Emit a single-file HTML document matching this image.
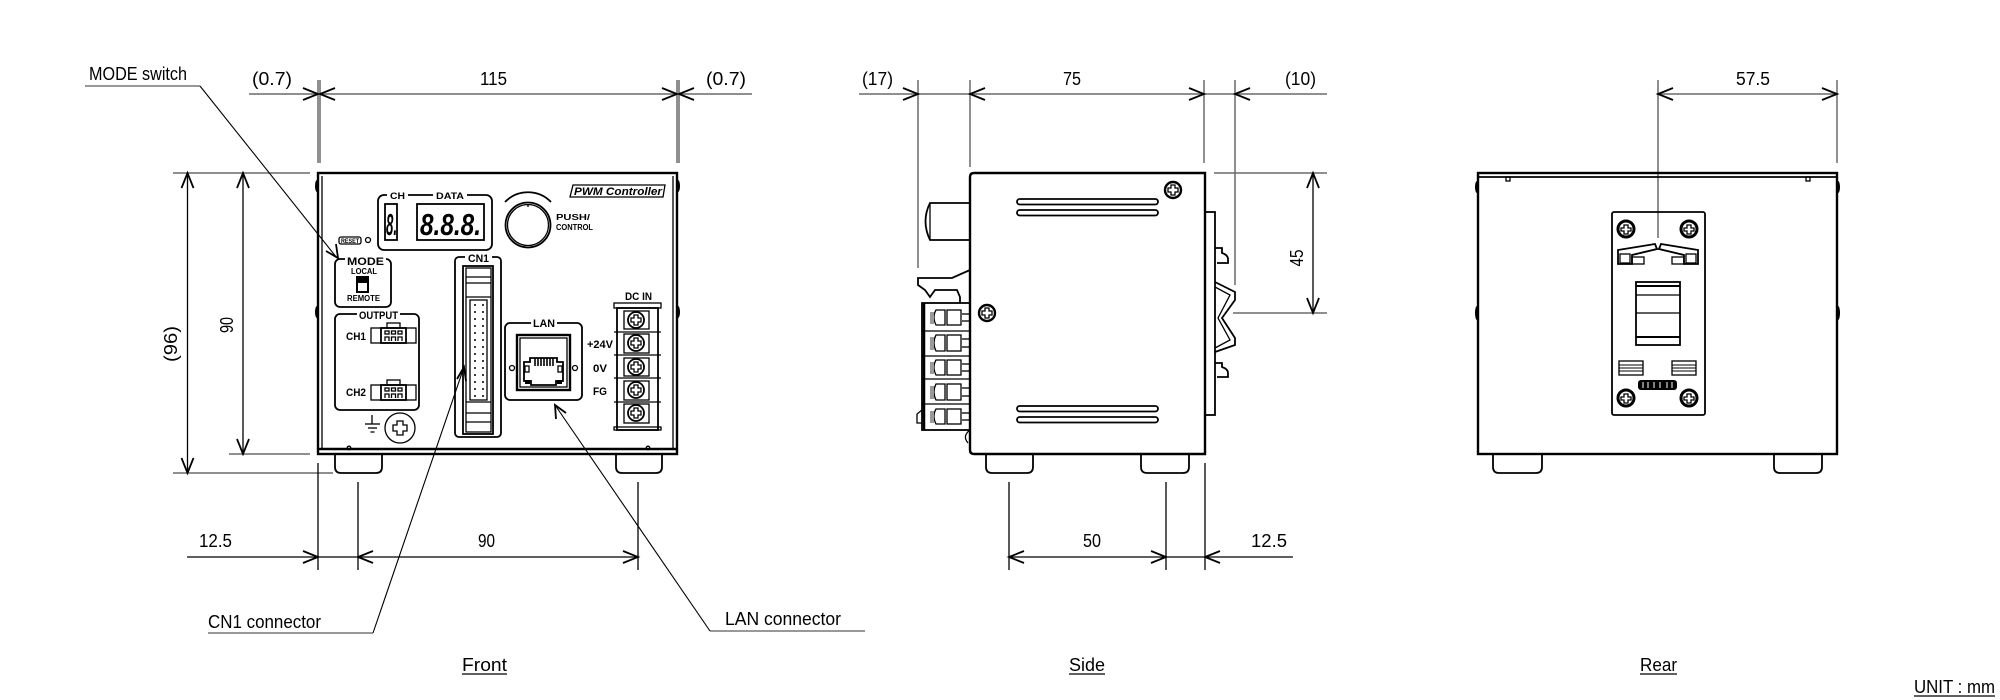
<!DOCTYPE html>
<html><head><meta charset="utf-8"><style>
html,body{margin:0;padding:0;background:#fff;}
svg{display:block;}
.d{stroke:#6a6a6a;stroke-width:1.5;fill:none;}
.a{stroke:#000;stroke-width:1.8;fill:none;}
.b{stroke:#000;stroke-width:2.4;fill:none;}
.t{stroke:#000;stroke-width:1.3;fill:none;}
.lt{font-family:"Liberation Sans Narrow","Liberation Sans",sans-serif;font-size:18px;fill:#000;}
.p{font-family:"Liberation Sans",sans-serif;font-weight:bold;fill:#000;}
</style></head><body>
<svg width="2000" height="700" viewBox="0 0 2000 700" xmlns="http://www.w3.org/2000/svg">
<rect width="2000" height="700" fill="#fff"/>

<!-- ================= DIMENSIONS (top) ================= -->
<g class="d">
<line x1="318" y1="80" x2="318" y2="163"/>
<line x1="320" y1="80" x2="320" y2="163"/>
<line x1="677" y1="80" x2="677" y2="163"/>
<line x1="679" y1="80" x2="679" y2="163"/>
<line x1="249" y1="94" x2="752" y2="94"/>
<line x1="918" y1="80" x2="918" y2="268"/>
<line x1="970" y1="80" x2="970" y2="167"/>
<line x1="1204" y1="80" x2="1204" y2="163"/>
<line x1="1235" y1="80" x2="1235" y2="285"/>
<line x1="859" y1="94" x2="1327" y2="94"/>
<line x1="1658" y1="80" x2="1658" y2="238"/>
<line x1="1837" y1="80" x2="1837" y2="163"/>
<line x1="1658" y1="94" x2="1837" y2="94"/>
<!-- 45 -->
<line x1="1214" y1="173" x2="1327" y2="173"/>
<line x1="1233" y1="313" x2="1327" y2="313"/>
<!-- front verticals -->
<line x1="173" y1="173" x2="310" y2="173"/>
<line x1="229" y1="454" x2="310" y2="454"/>
<line x1="173" y1="473" x2="333" y2="473"/>
</g>
<g class="t">
<line x1="1313" y1="173" x2="1313" y2="313"/>
<line x1="243" y1="173" x2="243" y2="454"/>
<line x1="187.5" y1="173" x2="187.5" y2="473"/>
<!-- bottom dims -->
<line x1="318" y1="463" x2="318" y2="570"/>
<line x1="358" y1="482" x2="358" y2="570"/>
<line x1="638" y1="482" x2="638" y2="570"/>
<line x1="187" y1="557" x2="638" y2="557"/>
<line x1="1009" y1="482" x2="1009" y2="570"/>
<line x1="1166" y1="482" x2="1166" y2="570"/>
<line x1="1205" y1="463" x2="1205" y2="570"/>
<line x1="1009" y1="557" x2="1293" y2="557"/>
</g>
<!-- arrows -->
<g class="a">
<polyline points="303,88 318,94 303,100"/>
<polyline points="335,88 320,94 335,100"/>
<polyline points="662,88 677,94 662,100"/>
<polyline points="694,88 679,94 694,100"/>
<polyline points="903,88 918,94 903,100"/>
<polyline points="985,88 970,94 985,100"/>
<polyline points="1189,88 1204,94 1189,100"/>
<polyline points="1250,88 1235,94 1250,100"/>
<polyline points="1673,88 1658,94 1673,100"/>
<polyline points="1822,88 1837,94 1822,100"/>
<polyline points="1307,188 1313,173 1319,188"/>
<polyline points="1307,298 1313,313 1319,298"/>
<polyline points="237,188 243,173 249,188"/>
<polyline points="237,439 243,454 249,439"/>
<polyline points="181.5,188 187.5,173 193.5,188"/>
<polyline points="181.5,458 187.5,473 193.5,458"/>
<polyline points="303,551 318,557 303,563"/>
<polyline points="373,551 358,557 373,563"/>
<polyline points="623,551 638,557 623,563"/>
<polyline points="1024,551 1009,557 1024,563"/>
<polyline points="1151,551 1166,557 1151,563"/>
<polyline points="1220,551 1205,557 1220,563"/>
</g>

<!-- dimension texts -->
<g class="lt">
<text x="89" y="80" textLength="98" lengthAdjust="spacingAndGlyphs">MODE switch</text>
<text x="252" y="85" textLength="40" lengthAdjust="spacingAndGlyphs">(0.7)</text>
<text x="480" y="85" textLength="27" lengthAdjust="spacingAndGlyphs">115</text>
<text x="706" y="85" textLength="40" lengthAdjust="spacingAndGlyphs">(0.7)</text>
<text x="862" y="85" textLength="31" lengthAdjust="spacingAndGlyphs">(17)</text>
<text x="1063" y="85" textLength="18" lengthAdjust="spacingAndGlyphs">75</text>
<text x="1285" y="85" textLength="31" lengthAdjust="spacingAndGlyphs">(10)</text>
<text x="1736" y="85" textLength="34" lengthAdjust="spacingAndGlyphs">57.5</text>
<text x="199" y="547" textLength="33" lengthAdjust="spacingAndGlyphs">12.5</text>
<text x="478" y="547" textLength="17" lengthAdjust="spacingAndGlyphs">90</text>
<text x="1083" y="547" textLength="18" lengthAdjust="spacingAndGlyphs">50</text>
<text x="1251" y="547" textLength="36" lengthAdjust="spacingAndGlyphs">12.5</text>
<text x="208" y="628" textLength="113" lengthAdjust="spacingAndGlyphs">CN1 connector</text>
<text x="725" y="625" textLength="116" lengthAdjust="spacingAndGlyphs">LAN connector</text>
<text x="462" y="671" textLength="45" lengthAdjust="spacingAndGlyphs">Front</text>
<text x="1069" y="671" textLength="36" lengthAdjust="spacingAndGlyphs">Side</text>
<text x="1640" y="671" textLength="37" lengthAdjust="spacingAndGlyphs">Rear</text>
<text x="1914" y="693" textLength="81" lengthAdjust="spacingAndGlyphs">UNIT : mm</text>
<text transform="translate(233,325) rotate(-90)" text-anchor="middle" textLength="16" lengthAdjust="spacingAndGlyphs">90</text>
<text transform="translate(177,344) rotate(-90)" text-anchor="middle" textLength="36" lengthAdjust="spacingAndGlyphs">(96)</text>
<text transform="translate(1303,258) rotate(-90)" text-anchor="middle" textLength="17" lengthAdjust="spacingAndGlyphs">45</text>
</g>
<!-- underlines -->
<g stroke="#000" stroke-width="1.3">
<line x1="462" y1="674" x2="507" y2="674"/>
<line x1="1069" y1="674" x2="1105" y2="674"/>
<line x1="1640" y1="674" x2="1677" y2="674"/>
<line x1="1914" y1="696" x2="1995" y2="696"/>
</g>

<!-- leaders -->
<g>
<line x1="85" y1="86" x2="200" y2="86" stroke="#777" stroke-width="1.6"/>
<line x1="200" y1="86" x2="337" y2="258" stroke="#000" stroke-width="1.1"/>
<polyline points="326,251 338,258 336,244" class="a"/>
<line x1="208" y1="633" x2="373" y2="633" stroke="#777" stroke-width="1.6"/>
<line x1="373" y1="633" x2="464" y2="367" stroke="#000" stroke-width="1.1"/>
<polyline points="457,379 464,367 466,381" class="a"/>
<line x1="710" y1="631" x2="865" y2="631" stroke="#777" stroke-width="1.6"/>
<line x1="710" y1="631" x2="555" y2="405" stroke="#000" stroke-width="1.1"/>
<polyline points="556,419 555,405 566,413" class="a"/>
</g>

<!-- ================= FRONT VIEW ================= -->
<g>
<rect x="318" y="173" width="359" height="281" class="b"/>
<line x1="322" y1="176" x2="322" y2="449" class="t"/>
<line x1="673" y1="176" x2="673" y2="449" class="t"/>
<line x1="318" y1="449" x2="677" y2="449" class="b"/>
<ellipse cx="317" cy="186" rx="2" ry="6"/><ellipse cx="317" cy="312" rx="2" ry="6"/>
<ellipse cx="678" cy="186" rx="2" ry="6"/><ellipse cx="678" cy="312" rx="2" ry="6"/>
<circle cx="349" cy="448" r="1.8" class="t"/><circle cx="648" cy="448" r="1.8" class="t"/>
<!-- feet -->
<path d="M335,454 V467 Q335,473 341,473 H376 Q382,473 382,467 V454" class="a"/>
<path d="M616,454 V467 Q616,473 622,473 H656 Q662,473 662,467 V454" class="a"/>

<!-- CH/DATA -->
<rect x="378" y="195" width="114" height="55" rx="6" class="a"/>
<rect x="387" y="190" width="21" height="10" fill="#fff"/>
<rect x="433" y="190" width="34" height="10" fill="#fff"/>
<text x="390" y="199" class="p" font-size="9" textLength="15" lengthAdjust="spacingAndGlyphs">CH</text>
<text x="436" y="199" class="p" font-size="9" textLength="28" lengthAdjust="spacingAndGlyphs">DATA</text>
<rect x="385" y="204" width="12" height="36" class="a"/>
<rect x="417" y="204" width="67" height="36" class="a"/>
<text x="386" y="235" class="p" font-size="31" font-style="italic" textLength="11" lengthAdjust="spacingAndGlyphs">8.</text>
<text x="420" y="235" class="p" font-size="31" font-style="italic" textLength="61" lengthAdjust="spacingAndGlyphs">8.8.8.</text>

<!-- RESET -->
<rect x="339" y="237" width="22" height="7" rx="2" class="t"/>
<text x="341" y="243" class="p" font-size="6.5" textLength="18" lengthAdjust="spacingAndGlyphs">RESET</text>
<circle cx="368" cy="240" r="2.5" class="t"/>

<!-- MODE -->
<rect x="335" y="259" width="56" height="48" rx="5" class="a"/>
<rect x="345" y="254" width="41" height="10" fill="#fff"/>
<text x="347" y="265" class="p" font-size="11" textLength="37" lengthAdjust="spacingAndGlyphs">MODE</text>
<text x="351" y="274" class="p" font-size="8" textLength="26" lengthAdjust="spacingAndGlyphs">LOCAL</text>
<rect x="356" y="276" width="13" height="17" fill="#000"/>
<rect x="358" y="283" width="9" height="8" fill="#fff"/>
<text x="347" y="301" class="p" font-size="8" textLength="33" lengthAdjust="spacingAndGlyphs">REMOTE</text>

<!-- OUTPUT -->
<rect x="335" y="314" width="84" height="96" rx="5" class="a"/>
<rect x="357" y="309" width="43" height="10" fill="#fff"/>
<text x="359" y="319" class="p" font-size="11" textLength="39" lengthAdjust="spacingAndGlyphs">OUTPUT</text>
<text x="346" y="340" class="p" font-size="11" textLength="20" lengthAdjust="spacingAndGlyphs">CH1</text>
<text x="346" y="396" class="p" font-size="11" textLength="20" lengthAdjust="spacingAndGlyphs">CH2</text>
<g id="cc">
<rect x="371" y="328" width="45" height="15" class="t"/>
<rect x="381" y="328" width="25" height="15" class="a" fill="#fff"/>
<rect x="387" y="323" width="13" height="5" class="t"/>
<rect x="385" y="331" width="4" height="3" class="t"/><rect x="391.5" y="331" width="4" height="3" class="t"/><rect x="398" y="331" width="4" height="3" class="t"/>
<path d="M385,341 V337 H389 V341 M391.5,341 V337 H395.5 V341 M398,341 V337 H402 V341" class="t"/>
</g>
<use href="#cc" transform="translate(0,57)"/>

<!-- ground -->
<line x1="372" y1="415" x2="372" y2="424" class="t"/>
<line x1="365" y1="424" x2="380" y2="424" class="t"/>
<line x1="368" y1="428" x2="377" y2="428" class="t"/>
<line x1="370.5" y1="432" x2="374.5" y2="432" class="t"/>
<circle cx="400" cy="428" r="15" class="t"/>
<path d="M397,421 h6 v4 h4 v6 h-4 v4 h-6 v-4 h-4 v-6 h4 z" class="t"/>

<!-- CN1 -->
<rect x="455" y="257" width="46" height="180" rx="4" class="a"/>
<rect x="465" y="252" width="27" height="10" fill="#fff"/>
<text x="468" y="262" class="p" font-size="11" textLength="21" lengthAdjust="spacingAndGlyphs">CN1</text>
<rect x="463" y="266" width="30" height="168" class="a"/>
<rect x="466" y="268" width="25" height="164" class="t"/>
<line x1="466" y1="277" x2="491" y2="277" class="t"/>
<line x1="466" y1="283" x2="491" y2="283" class="t"/>
<line x1="466" y1="297" x2="491" y2="297" class="t"/>
<line x1="466" y1="402" x2="491" y2="402" class="t"/>
<line x1="466" y1="413" x2="491" y2="413" class="t"/>
<line x1="466" y1="422" x2="491" y2="422" class="t"/>
<rect x="470" y="300" width="17" height="100" class="t"/>
<g fill="#000">
<circle cx="475" cy="305" r="1"/><circle cx="483" cy="305" r="1"/>
<circle cx="475" cy="312" r="1"/><circle cx="483" cy="312" r="1"/>
<circle cx="475" cy="319" r="1"/><circle cx="483" cy="319" r="1"/>
<circle cx="475" cy="326" r="1"/><circle cx="483" cy="326" r="1"/>
<circle cx="475" cy="333" r="1"/><circle cx="483" cy="333" r="1"/>
<circle cx="475" cy="340" r="1"/><circle cx="483" cy="340" r="1"/>
<circle cx="475" cy="347" r="1"/><circle cx="483" cy="347" r="1"/>
<circle cx="475" cy="354" r="1"/><circle cx="483" cy="354" r="1"/>
<circle cx="475" cy="361" r="1"/><circle cx="483" cy="361" r="1"/>
<circle cx="475" cy="368" r="1"/><circle cx="483" cy="368" r="1"/>
<circle cx="475" cy="375" r="1"/><circle cx="483" cy="375" r="1"/>
<circle cx="475" cy="382" r="1"/><circle cx="483" cy="382" r="1"/>
<circle cx="475" cy="389" r="1"/><circle cx="483" cy="389" r="1"/>
<circle cx="475" cy="396" r="1"/><circle cx="483" cy="396" r="1"/>
</g>

<!-- knob -->
<circle cx="528" cy="225" r="22.5" class="a"/>
<circle cx="528" cy="225" r="20.5" class="t"/>
<line x1="528" y1="204" x2="528" y2="207" class="t"/>
<path d="M505,202 A32,32 0 0 1 551,202" class="a"/>
<text x="556" y="220" class="p" font-size="8" textLength="34" lengthAdjust="spacingAndGlyphs">PUSH/</text>
<text x="556" y="230" class="p" font-size="8" textLength="37" lengthAdjust="spacingAndGlyphs">CONTROL</text>

<!-- PWM Controller -->
<polygon points="573,185 665,185 663,197 570,197" class="t"/>
<text x="574" y="195" class="p" font-size="11" font-style="italic" textLength="88" lengthAdjust="spacingAndGlyphs">PWM Controller</text>

<!-- LAN -->
<rect x="505" y="323" width="77" height="77" rx="5" class="a"/>
<rect x="531" y="318" width="26" height="10" fill="#fff"/>
<text x="533" y="327" class="p" font-size="11" textLength="22" lengthAdjust="spacingAndGlyphs">LAN</text>
<rect x="517" y="335" width="53" height="55" class="b"/>
<rect x="520" y="338" width="47" height="49" class="t"/>
<path d="M524,362 H530 V358 H557 V362 H563 V381 H556 V385 H531 V381 H524 Z" class="a"/>
<g stroke="#000" stroke-width="1.6">
<line x1="535" y1="358" x2="535" y2="366"/><line x1="538" y1="358" x2="538" y2="366"/>
<line x1="541" y1="358" x2="541" y2="366"/><line x1="544" y1="358" x2="544" y2="366"/>
<line x1="547" y1="358" x2="547" y2="366"/><line x1="550" y1="358" x2="550" y2="366"/>
<line x1="553" y1="358" x2="553" y2="366"/>
</g>
<rect x="525" y="366" width="4" height="6" class="t"/><rect x="558" y="366" width="4" height="6" class="t"/>
<rect x="525" y="380" width="5" height="4" fill="#000"/><rect x="557" y="380" width="5" height="4" fill="#000"/>
<circle cx="512" cy="368" r="2.5" class="t"/><circle cx="575" cy="368" r="2.5" class="t"/>

<!-- DC IN terminal -->
<text x="625" y="300" class="p" font-size="11" textLength="27" lengthAdjust="spacingAndGlyphs">DC IN</text>
<rect x="614" y="303" width="47" height="5" class="t"/>
<rect x="617" y="308" width="41" height="122" class="a"/>
<rect x="614" y="427" width="47" height="3" class="t"/>
<g class="t">
<line x1="614" y1="332" x2="661" y2="332"/><line x1="614" y1="355" x2="661" y2="355"/>
<line x1="614" y1="378" x2="661" y2="378"/><line x1="614" y1="402" x2="661" y2="402"/>
<rect x="624" y="311" width="25" height="18"/><rect x="624" y="334" width="25" height="19"/>
<rect x="624" y="358" width="25" height="18"/><rect x="624" y="381" width="25" height="19"/>
<rect x="624" y="404" width="25" height="19"/>
</g>
<g class="a">
<circle cx="636" cy="320" r="8"/><circle cx="636" cy="343" r="8"/><circle cx="636" cy="367" r="8"/>
<circle cx="636" cy="390" r="8"/><circle cx="636" cy="413" r="8"/>
</g>
<g class="t">
<path d="M634,315 h4 v3 h3 v4 h-3 v3 h-4 v-3 h-3 v-4 h3 z"/>
<path d="M634,338 h4 v3 h3 v4 h-3 v3 h-4 v-3 h-3 v-4 h3 z"/>
<path d="M634,362 h4 v3 h3 v4 h-3 v3 h-4 v-3 h-3 v-4 h3 z"/>
<path d="M634,385 h4 v3 h3 v4 h-3 v3 h-4 v-3 h-3 v-4 h3 z"/>
<path d="M634,408 h4 v3 h3 v4 h-3 v3 h-4 v-3 h-3 v-4 h3 z"/>
</g>
<text x="587" y="348" class="p" font-size="11" textLength="26" lengthAdjust="spacingAndGlyphs">+24V</text>
<text x="593" y="372" class="p" font-size="11" textLength="14" lengthAdjust="spacingAndGlyphs">0V</text>
<text x="593" y="395" class="p" font-size="11" textLength="14" lengthAdjust="spacingAndGlyphs">FG</text>
</g>

<!-- ================= SIDE VIEW ================= -->
<g>
<path d="M970,177 Q970,173 974,173 H1205 V454 H974 Q970,454 970,450 Z" class="b"/>
<rect x="1017" y="199" width="141" height="5.5" rx="2.75" class="a"/>
<rect x="1017" y="210" width="141" height="5.5" rx="2.75" class="a"/>
<rect x="1017" y="406" width="141" height="5.5" rx="2.75" class="a"/>
<rect x="1017" y="417" width="141" height="5.5" rx="2.75" class="a"/>
<circle cx="1173" cy="190" r="8" class="b"/>
<path d="M1171,185 h4 v3 h3 v4 h-3 v3 h-4 v-3 h-3 v-4 h3 z" class="t"/>
<circle cx="987" cy="313" r="8" class="b"/>
<path d="M985,308 h4 v3 h3 v4 h-3 v3 h-4 v-3 h-3 v-4 h3 z" class="t"/>
<!-- knob -->
<path d="M970,203 H930 Q921,221 930,240 H970" class="a"/>
<line x1="930" y1="203" x2="930" y2="240" class="t"/>
<!-- clip -->
<path d="M970,270 L952,278 H918 V285 L925,290 L930,297 L935,290 H957 L960,297 V303" class="a"/>
<!-- terminal block -->
<rect x="922" y="303" width="48" height="127" class="a"/>
<line x1="924" y1="303" x2="924" y2="430" stroke="#000" stroke-width="2.5"/>
<g class="t">
<line x1="922" y1="331" x2="970" y2="331"/><line x1="922" y1="356" x2="970" y2="356"/>
<line x1="922" y1="379" x2="970" y2="379"/><line x1="922" y1="404" x2="970" y2="404"/>
<rect x="947" y="310" width="14" height="15"/><rect x="947" y="335" width="14" height="16"/>
<rect x="947" y="360" width="14" height="15"/><rect x="947" y="384" width="14" height="16"/>
<rect x="947" y="409" width="14" height="15"/>
<path d="M945,310 H936 Q932,317 936,325 H945 Z"/><path d="M945,335 H936 Q932,343 936,351 H945 Z"/>
<path d="M945,360 H936 Q932,367 936,375 H945 Z"/><path d="M945,384 H936 Q932,392 936,400 H945 Z"/>
<path d="M945,409 H936 Q932,416 936,424 H945 Z"/>
<line x1="962" y1="314" x2="970" y2="314"/><line x1="962" y1="321" x2="970" y2="321"/>
<line x1="962" y1="339" x2="970" y2="339"/><line x1="962" y1="347" x2="970" y2="347"/>
<line x1="962" y1="364" x2="970" y2="364"/><line x1="962" y1="371" x2="970" y2="371"/>
<line x1="962" y1="388" x2="970" y2="388"/><line x1="962" y1="396" x2="970" y2="396"/>
<line x1="962" y1="413" x2="970" y2="413"/><line x1="962" y1="420" x2="970" y2="420"/>
</g>
<g fill="#9a9a9a">
<rect x="930" y="312" width="4" height="12"/><rect x="930" y="337" width="4" height="13"/>
<rect x="930" y="362" width="4" height="12"/><rect x="930" y="386" width="4" height="13"/>
<rect x="930" y="411" width="4" height="12"/>
</g>
<path d="M922,410 L917,414 V423 H922" class="t"/>
<path d="M970,430 Q962,436 968,443" class="t"/>
<!-- rear plate & DIN rail -->
<rect x="1205" y="212" width="10" height="203" class="a"/>
<path d="M1215,248 H1222 V253 Q1228,255 1228,259 V263 H1217" class="a"/>
<path d="M1215,282 L1235,292 V300 L1222,318 L1235,338 V345 L1215,352" class="a"/>
<path d="M1215,287 L1230,295 L1218,318 L1230,340 L1215,348" class="t"/>
<path d="M1215,363 H1222 V367 Q1228,369 1228,373 V377 H1217" class="a"/>
<!-- feet -->
<path d="M986,454 V467 Q986,473 992,473 H1027 Q1033,473 1033,467 V454" class="a"/>
<path d="M1141,454 V467 Q1141,473 1147,473 H1183 Q1189,473 1189,467 V454" class="a"/>
</g>

<!-- ================= REAR VIEW ================= -->
<g>
<rect x="1478" y="173" width="359" height="281" class="b"/>
<line x1="1478" y1="177" x2="1837" y2="177" class="a"/>
<rect x="1506" y="177" width="4" height="4" class="t"/>
<rect x="1806" y="177" width="4" height="4" class="t"/>
<ellipse cx="1477" cy="187" rx="2" ry="6"/><ellipse cx="1477" cy="313" rx="2" ry="7"/>
<ellipse cx="1838" cy="187" rx="2" ry="6"/><ellipse cx="1838" cy="313" rx="2" ry="7"/>
<path d="M1493,454 V467 Q1493,473 1499,473 H1536 Q1542,473 1542,467 V454" class="a"/>
<path d="M1774,454 V467 Q1774,473 1780,473 H1816 Q1822,473 1822,467 V454" class="a"/>
<!-- panel -->
<rect x="1612" y="212" width="93" height="203" rx="2" class="a"/>
<g>
<circle cx="1626" cy="229" r="8" fill="none" stroke="#000" stroke-width="3"/>
<circle cx="1689" cy="229" r="8" fill="none" stroke="#000" stroke-width="3"/>
<circle cx="1626" cy="398" r="8" fill="none" stroke="#000" stroke-width="3"/>
<circle cx="1689" cy="398" r="8" fill="none" stroke="#000" stroke-width="3"/>
</g>
<g class="t">
<path d="M1624,225 h4 v3 h3 v3 h-3 v3 h-4 v-3 h-3 v-3 h3 z"/>
<path d="M1687,225 h4 v3 h3 v3 h-3 v3 h-4 v-3 h-3 v-3 h3 z"/>
<path d="M1624,394 h4 v3 h3 v3 h-3 v3 h-4 v-3 h-3 v-3 h3 z"/>
<path d="M1687,394 h4 v3 h3 v3 h-3 v3 h-4 v-3 h-3 v-3 h3 z"/>
</g>
<!-- clip -->
<path d="M1618,264 V250 L1655,244 L1657,249 L1632,255 V264 Z" class="a"/>
<path d="M1698,264 V250 L1661,244 L1659,249 L1684,255 V264 Z" class="a"/>
<path d="M1632,255 L1658,249 L1684,255" class="t"/>
<rect x="1620" y="254" width="10" height="9" class="t"/>
<rect x="1686" y="254" width="10" height="9" class="t"/>
<rect x="1632" y="257" width="12" height="7" class="t"/>
<rect x="1672" y="257" width="12" height="7" class="t"/>
<!-- center rect -->
<rect x="1636" y="282" width="44" height="63" class="a"/>
<g stroke="#000">
<line x1="1636" y1="286" x2="1680" y2="286" stroke-width="2"/>
<line x1="1636" y1="295" x2="1680" y2="295" stroke-width="1.2"/>
<line x1="1636" y1="313" x2="1680" y2="313" stroke-width="1.2"/>
<line x1="1636" y1="337" x2="1680" y2="337" stroke-width="2"/>
</g>
<!-- lower pieces -->
<rect x="1619" y="361" width="24" height="14" class="t"/>
<rect x="1672" y="361" width="24" height="14" class="t"/>
<g stroke="#000" stroke-width="1">
<line x1="1619" y1="365" x2="1643" y2="365"/><line x1="1619" y1="368" x2="1643" y2="368"/><line x1="1619" y1="371" x2="1643" y2="371"/>
<line x1="1672" y1="365" x2="1696" y2="365"/><line x1="1672" y1="368" x2="1696" y2="368"/><line x1="1672" y1="371" x2="1696" y2="371"/>
</g>
<rect x="1638" y="380" width="39" height="10" rx="3" fill="#000"/>
<g stroke="#fff" stroke-width="1">
<line x1="1643" y1="382" x2="1643" y2="388"/><line x1="1648" y1="382" x2="1648" y2="388"/>
<line x1="1654" y1="382" x2="1654" y2="388"/><line x1="1660" y1="382" x2="1660" y2="388"/>
<line x1="1667" y1="382" x2="1667" y2="388"/><line x1="1672" y1="382" x2="1672" y2="388"/>
</g>
</g>
</svg>
</body></html>
